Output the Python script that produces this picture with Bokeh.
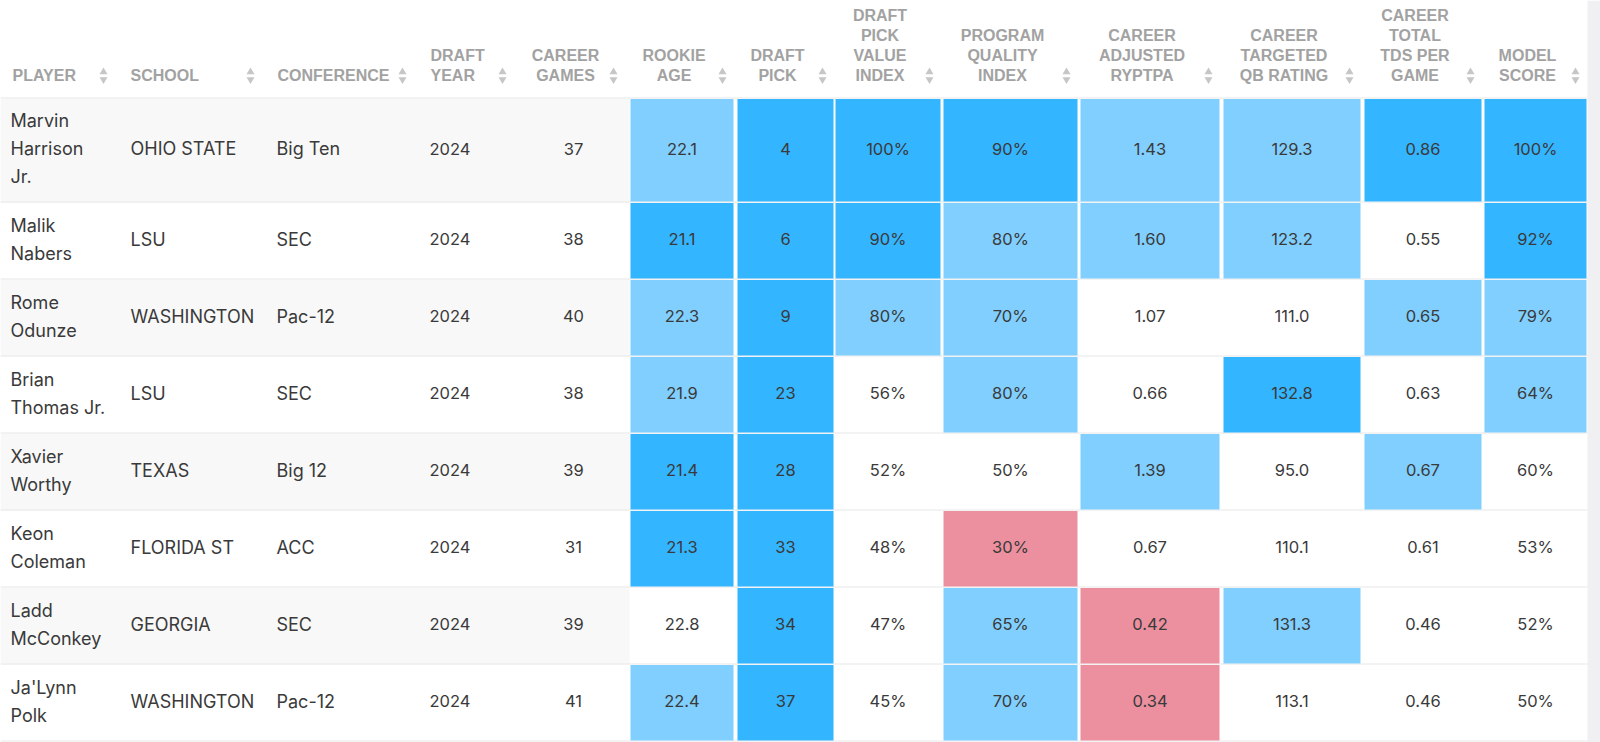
from bokeh.plotting import figure
from bokeh.models import ColumnDataSource, Range1d
from bokeh.core.properties import value
from bokeh.embed import file_html
from bokeh.resources import INLINE

# ---------------- data ----------------
player_lines = [["Marvin", "Harrison", "Jr."], ["Malik", "Nabers"], ["Rome", "Odunze"],
                ["Brian", "Thomas Jr."], ["Xavier", "Worthy"], ["Keon", "Coleman"],
                ["Ladd", "McConkey"], ["Ja'Lynn", "Polk"]]
schools = ["OHIO STATE", "LSU", "WASHINGTON", "LSU", "TEXAS", "FLORIDA ST", "GEORGIA", "WASHINGTON"]
conferences = ["Big Ten", "SEC", "Pac-12", "SEC", "Big 12", "ACC", "SEC", "Pac-12"]
draft_year = [2024, 2024, 2024, 2024, 2024, 2024, 2024, 2024]
career_games = [37, 38, 40, 38, 39, 31, 39, 41]

rookie_age = [22.1, 21.1, 22.3, 21.9, 21.4, 21.3, 22.8, 22.4]
draft_pick = [4, 6, 9, 23, 28, 33, 34, 37]
pick_value_index = [100, 90, 80, 56, 52, 48, 47, 45]
program_quality_index = [90, 80, 70, 80, 50, 30, 65, 70]
career_ryptpa = [1.43, 1.60, 1.07, 0.66, 1.39, 0.67, 0.42, 0.34]
career_targeted_qb = [129.3, 123.2, 111.0, 132.8, 95.0, 110.1, 131.3, 113.1]
career_tds_per_game = [0.86, 0.55, 0.65, 0.63, 0.67, 0.61, 0.46, 0.46]
model_score = [100, 92, 79, 64, 60, 53, 52, 50]

# tiers: H = top, M = good, L = poor, "" = neutral
rookie_age_tier = ["M", "H", "M", "M", "H", "H", "", "M"]
draft_pick_tier = ["H", "H", "H", "H", "H", "H", "H", "H"]
pick_value_tier = ["H", "H", "M", "", "", "", "", ""]
program_quality_tier = ["H", "M", "M", "M", "", "L", "M", "M"]
ryptpa_tier = ["M", "M", "", "", "M", "", "L", "L"]
targeted_qb_tier = ["M", "M", "", "H", "", "", "M", ""]
tds_tier = ["H", "", "M", "", "M", "", "", ""]
model_score_tier = ["H", "H", "M", "M", "", "", "", ""]

text_headers = [["PLAYER"], ["SCHOOL"], ["CONFERENCE"], ["DRAFT", "YEAR"], ["CAREER", "GAMES"]]
heat_headers = [["ROOKIE", "AGE"], ["DRAFT", "PICK"], ["DRAFT", "PICK", "VALUE", "INDEX"],
                ["PROGRAM", "QUALITY", "INDEX"], ["CAREER", "ADJUSTED", "RYPTPA"],
                ["CAREER", "TARGETED", "QB RATING"], ["CAREER", "TOTAL", "TDS PER", "GAME"],
                ["MODEL", "SCORE"]]

# ---------------- layout / style ----------------
TIER_COLORS = {"H": "#33b5ff", "M": "#80cfff", "L": "#ec909f", "": "#ffffff"}
HEAD_COLOR = "#a2a2a2"
ICON_COLOR = "#c6c6c6"
BODY_COLOR = "#3a3a3a"
BODY_FONT = value("Inter")
HEAD_FONT = value("Liberation Sans")
NAME_SIZE = "18px"
NUM_SIZE = "16.5px"
HEAD_SIZE = "16px"

HEADER_BOTTOM = 98
LINE_H = 28
TEXT_DY = -2
heat_edges = [(630, 733), (737, 833), (835, 940), (943, 1077), (1080, 1219),
              (1223, 1360), (1364, 1481), (1484, 1586)]
TABLE_RIGHT = 1587

p = figure(width=1600, height=742, x_range=Range1d(0, 1600), y_range=Range1d(742, 0),
           output_backend="svg", toolbar_location=None, min_border=0,
           background_fill_color="white", border_fill_color="white")
p.axis.visible = False
p.grid.visible = False
p.outline_line_color = None

# row geometry from number of name lines
tops, bottoms = [], []
y = HEADER_BOTTOM
for lines in player_lines:
    h = 23 + 27 * len(lines)
    tops.append(y)
    bottoms.append(y + h)
    y += h
centers = [(t + b) / 2 for t, b in zip(tops, bottoms)]
tcenters = [c + TEXT_DY for c in centers]

# right grey strip
p.quad(left=[TABLE_RIGHT], right=[1600], top=[0], bottom=[742], fill_color="#f0f0f2", line_color=None)

# zebra stripes on text columns
sidx = [i for i in range(len(tops)) if i % 2 == 0]
p.quad(left=[0] * len(sidx), right=[629] * len(sidx), top=[tops[i] for i in sidx],
       bottom=[bottoms[i] for i in sidx], fill_color="#f8f8f8", line_color=None)

# row separators
seps = [HEADER_BOTTOM - 0.5] + [b - 0.5 for b in bottoms]
p.segment(x0=[0] * len(seps), x1=[TABLE_RIGHT] * len(seps), y0=seps, y1=seps,
          line_color="#e8e8e8", line_width=1.2)

# heat cells
heat_cols = [
    (rookie_age, rookie_age_tier, "{:.1f}"),
    (draft_pick, draft_pick_tier, "{}"),
    (pick_value_index, pick_value_tier, "{}%"),
    (program_quality_index, program_quality_tier, "{}%"),
    (career_ryptpa, ryptpa_tier, "{:.2f}"),
    (career_targeted_qb, targeted_qb_tier, "{:.1f}"),
    (career_tds_per_game, tds_tier, "{:.2f}"),
    (model_score, model_score_tier, "{}%"),
]
cl, cr, ct, cb, cc, cx, cy, ctxt = [], [], [], [], [], [], [], []
for (vals, tiers, fmt), (l, r) in zip(heat_cols, heat_edges):
    for i, (v, t) in enumerate(zip(vals, tiers)):
        if t:
            cl.append(l); cr.append(r); ct.append(tops[i] + 0.5); cb.append(bottoms[i] - 1)
            cc.append(TIER_COLORS[t])
        cx.append((l + r) / 2); cy.append(tcenters[i]); ctxt.append(fmt.format(v))
p.quad(source=ColumnDataSource(dict(left=cl, right=cr, top=ct, bottom=cb, color=cc)),
       left="left", right="right", top="top", bottom="bottom", fill_color="color", line_color=None)
p.text(x=cx, y=cy, text=ctxt, text_align="center", text_baseline="middle",
       text_font=BODY_FONT, text_font_size=NUM_SIZE, text_color=BODY_COLOR)

# text columns
nx, ny, nt = [], [], []
for i, lines in enumerate(player_lines):
    n = len(lines)
    for k, s in enumerate(lines):
        nx.append(10); ny.append(tcenters[i] + (k - (n - 1) / 2) * LINE_H); nt.append(s)
p.text(x=nx, y=ny, text=nt, text_align="left", text_baseline="middle",
       text_font=BODY_FONT, text_font_size=NAME_SIZE, text_color=BODY_COLOR)
p.text(x=[130] * len(schools), y=tcenters, text=schools, text_align="left", text_baseline="middle",
       text_font=BODY_FONT, text_font_size=NAME_SIZE, text_color=BODY_COLOR)
p.text(x=[276] * len(conferences), y=tcenters, text=conferences, text_align="left", text_baseline="middle",
       text_font=BODY_FONT, text_font_size=NAME_SIZE, text_color=BODY_COLOR)
p.text(x=[429] * len(draft_year), y=tcenters, text=[str(v) for v in draft_year], text_align="left",
       text_baseline="middle", text_font=BODY_FONT, text_font_size=NUM_SIZE, text_color=BODY_COLOR)
p.text(x=[573] * len(career_games), y=tcenters, text=[str(v) for v in career_games], text_align="center",
       text_baseline="middle", text_font=BODY_FONT, text_font_size=NUM_SIZE, text_color=BODY_COLOR)

# headers
HEAD_LAST = 75
HEAD_STEP = 20
text_head_pos = [(12, "left", 103), (130, "left", 250), (277, "left", 402), (430, "left", 502),
                 (565, "center", 613)]
hx, hy, ht, ha = [], [], [], []
icon_x = []
for lines, (x, al, ix) in zip(text_headers, text_head_pos):
    n = len(lines)
    for k, s in enumerate(lines):
        hx.append(x); hy.append(HEAD_LAST - (n - 1 - k) * HEAD_STEP); ht.append(s); ha.append(al)
    icon_x.append(ix)
for lines, (l, r) in zip(heat_headers, heat_edges):
    n = len(lines)
    xc = (l + r - 22) / 2 + 3
    for k, s in enumerate(lines):
        hx.append(xc); hy.append(HEAD_LAST - (n - 1 - k) * HEAD_STEP); ht.append(s); ha.append("center")
    icon_x.append(r - 11)
p.text(source=ColumnDataSource(dict(x=hx, y=hy, text=ht, align=ha)), x="x", y="y", text="text",
       text_align="align", text_baseline="middle", text_font=HEAD_FONT, text_font_size=HEAD_SIZE,
       text_font_style="bold", text_color=HEAD_COLOR)
p.scatter(x=icon_x, y=[HEAD_LAST - 3.5] * len(icon_x), marker="triangle", size=8,
          fill_color=ICON_COLOR, line_color=None)
p.scatter(x=icon_x, y=[HEAD_LAST + 4] * len(icon_x), marker="inverted_triangle", size=8,
          fill_color=ICON_COLOR, line_color=None)

open("out.html", "w").write(file_html(p, INLINE))
